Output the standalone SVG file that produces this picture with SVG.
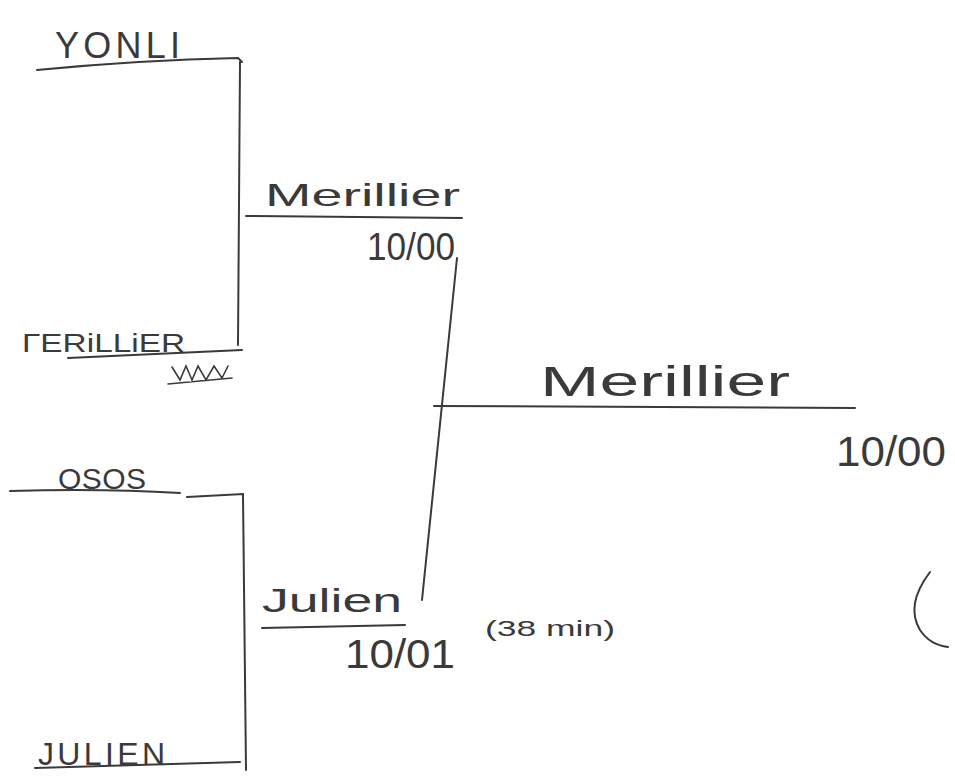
<svg xmlns="http://www.w3.org/2000/svg" width="955" height="778" viewBox="0 0 955 778">
<style>
.ln{fill:none;stroke:#3a3a3a;stroke-width:2;stroke-linecap:round}
.t{font-family:"Liberation Sans","DejaVu Sans",sans-serif;fill:#3a3a3a;font-weight:normal}
</style>
<rect width="955" height="778" fill="#ffffff"/>
<g id="connectors">
<path class="ln" d="M37,70 Q140,60 238,58 L242,62"/>
<path class="ln" d="M240,62 L238,345"/>
<path class="ln" d="M68,358 L242,350"/>
<path class="ln" d="M246,216 L462,218"/>
<path class="ln" d="M457,258 L422,600"/>
<path class="ln" d="M434,406 L855,408"/>
<path class="ln" d="M10,491 Q100,488 180,493"/>
<path class="ln" d="M187,497 L243,494 L246,770"/>
<path class="ln" d="M35,768 L240,762"/>
<path class="ln" d="M262,628 L405,625"/>
<path class="ln" d="M930,572 Q905,605 920,630 Q930,645 948,647"/>
</g>
<g id="r1-yonli"><text class="t" x="55" y="58" font-size="36" textLength="125" lengthAdjust="spacing">YONLI</text></g>
<g id="r1-merillier"><text class="t" x="22" y="352" font-size="25" textLength="163" lengthAdjust="spacingAndGlyphs">ΓERiLLiER</text>
<path class="ln" d="M172,367 L180,380 L186,366 L192,380 L198,366 L206,380 L214,366 L222,378 L228,366 M168,384 L232,378" style="stroke-width:1.6"/></g>
<g id="r1-osos"><text class="t" x="58" y="489" font-size="30" textLength="88" lengthAdjust="spacing">OSOS</text></g>
<g id="r1-julien"><text class="t" x="38" y="765" font-size="32" textLength="127" lengthAdjust="spacing">JULIEN</text></g>
<g id="r2-merillier"><text class="t" x="265" y="206" font-size="32" textLength="195" lengthAdjust="spacingAndGlyphs">Merillier</text><text class="t" x="367" y="260" font-size="38" textLength="88" lengthAdjust="spacingAndGlyphs">10/00</text></g>
<g id="r2-julien"><text class="t" x="262" y="612" font-size="34" textLength="140" lengthAdjust="spacingAndGlyphs">Julien</text><text class="t" x="345" y="668" font-size="40" textLength="110" lengthAdjust="spacingAndGlyphs">10/01</text><text class="t" x="485" y="636" font-size="22" textLength="130" lengthAdjust="spacingAndGlyphs">(38 min)</text></g>
<g id="final-merillier"><text class="t" x="540" y="396" font-size="42" textLength="250" lengthAdjust="spacingAndGlyphs">Merillier</text><text class="t" x="836" y="466" font-size="42" textLength="110" lengthAdjust="spacingAndGlyphs">10/00</text></g>
</svg>
